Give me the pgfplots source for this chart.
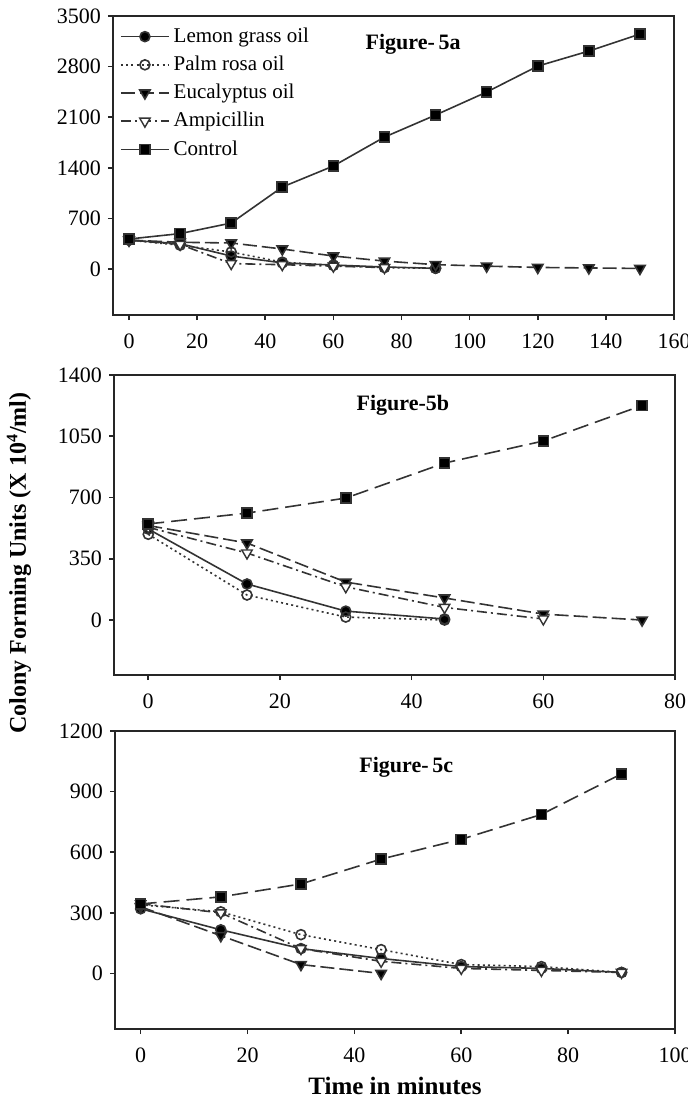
\documentclass[border=0pt]{standalone}
\usepackage{pgfplots}
\pgfplotsset{compat=1.18}
\usepackage{fontspec}
\setmainfont{Liberation Serif}
\tikzset{fig/.style={font=\bfseries\fontsize{11}{13}\selectfont}}
\begin{document}
\begin{tikzpicture}
\pgfplotsset{
  panel/.style={
    scale only axis, anchor=south west,
    axis line style={line width=1pt, black!85},
    tick style={line width=0.8pt, black!85},
    tick align=outside, major tick length=2.5pt,
    xtick pos=bottom, ytick pos=left,
    ticklabel style={font=\fontsize{11}{13}\selectfont},
    xticklabel style={yshift=-3.5pt},
    /pgf/number format/assume math mode=true,
    /pgf/number format/1000 sep={},
    clip=false,
  },
  lemon/.style={black!80, line width=0.8pt, mark=*, mark size=2.5pt, mark options={solid, fill=black}},
  palm/.style={black!80, line width=0.8pt, dash pattern=on 1pt off 1.6pt, mark=o, mark size=2.5pt, mark options={solid, fill=white, line width=0.8pt}},
  euca/.style={black!80, line width=0.8pt, dash pattern=on 7pt off 2.5pt, mark=triangle*, mark size=3pt, mark options={solid, rotate=180, fill=black}},
  ampi/.style={black!80, line width=0.8pt, dash pattern=on 5pt off 2pt on 1pt off 2pt, mark=triangle*, mark size=3pt, mark options={solid, rotate=180, fill=white, line width=0.7pt}},
  ctrlsolid/.style={black!80, line width=0.8pt, mark=square*, mark size=2.5pt, mark options={solid, fill=black}},
  ctrldash/.style={black!80, line width=0.8pt, dash pattern=on 8pt off 3.5pt, mark=square*, mark size=2.5pt, mark options={solid, fill=black}},
}
% ---------------- Figure 5a ----------------
\begin{axis}[panel, at={(56.5pt,-157.5pt)}, width=280.5pt, height=149.5pt,
  xmin=-4.7, xmax=160, ymin=-636, ymax=3500,
  xtick={0,20,...,160}, ytick={0,700,...,3500},
  legend style={at={(axis description cs:0.012,0.975)}, anchor=north west, draw=none, fill=none,
    font=\fontsize{10.5}{12}\selectfont, row sep=1.3pt, inner sep=0pt},
  legend cell align=left,
  legend image code/.code={\draw[mark repeat=2,mark phase=2] plot coordinates {(0pt,0pt) (12pt,0pt) (24pt,0pt)};},
]
\addplot[lemon] coordinates {(0,400) (15,350) (30,180) (45,85) (60,55) (75,28) (90,10)};
\addlegendentry{Lemon grass oil}
\addplot[palm] coordinates {(0,400) (15,330) (30,235) (45,95) (60,50) (75,20) (90,10)};
\addlegendentry{Palm rosa oil}
\addplot[euca] coordinates {(0,400) (15,370) (30,360) (45,277) (60,180) (75,110) (90,60) (105,40) (120,22) (135,15) (150,8)};
\addlegendentry{Eucalyptus oil}
\addplot[ampi] coordinates {(0,400) (15,340) (30,75) (45,60) (60,40) (75,20)};
\addlegendentry{Ampicillin}
\addplot[ctrlsolid] coordinates {(0,415) (15,490) (30,636) (45,1134) (60,1425) (75,1825) (90,2130) (105,2448) (120,2807) (135,3015) (150,3250)};
\addlegendentry{Control}
\node[fig] at (axis description cs:0.535,0.906) {Figure-\,5a};
\end{axis}
% ---------------- Figure 5b ----------------
\begin{axis}[panel, at={(57pt,-337.5pt)}, width=280.5pt, height=150pt,
  xmin=-5.2, xmax=80, ymin=-314, ymax=1400,
  xtick={0,20,...,80}, ytick={0,350,...,1400},
]
\addplot[lemon] coordinates {(0,520) (15,206) (30,51) (45,6)};
\addplot[palm] coordinates {(0,490) (15,143) (30,17) (45,0)};
\addplot[euca] coordinates {(0,540) (15,440) (30,217) (45,126) (60,34) (75,0)};
\addplot[ampi] coordinates {(0,530) (15,383) (30,190) (45,72) (60,6)};
\addplot[ctrldash] coordinates {(0,549) (15,611) (30,697) (45,897) (60,1023) (75,1226)};
\node[fig] at (axis description cs:0.515,0.9) {Figure-5b};
\end{axis}
% ---------------- Figure 5c ----------------
\begin{axis}[panel, at={(57.5pt,-514.5pt)}, width=280pt, height=149pt,
  xmin=-4.8, xmax=100, ymin=-275, ymax=1200,
  xtick={0,20,...,100}, ytick={0,300,...,1200},
  xlabel={Time in minutes},
  xlabel style={font=\bfseries\fontsize{12.5}{14}\selectfont, yshift=0pt},
]
\addplot[lemon] coordinates {(0,320) (15,216) (30,123) (45,74) (60,34) (75,25) (90,5)};
\addplot[palm] coordinates {(0,340) (15,305) (30,192) (45,118) (60,44) (75,34) (90,5)};
\addplot[euca] coordinates {(0,330) (15,187) (30,44) (45,0)};
\addplot[ampi] coordinates {(0,345) (15,300) (30,123) (45,60) (60,25) (75,15) (90,5)};
\addplot[ctrldash] coordinates {(0,344) (15,379) (30,443) (45,566) (60,664) (75,787) (90,988)};
\node[fig] at (axis description cs:0.52,0.877) {Figure-\,5c};
\end{axis}
\node[rotate=90, font=\bfseries\fontsize{12}{14}\selectfont] at (9.5pt,-281.5pt) {Colony Forming Units (X 10\textsuperscript{4}/ml)};
\pgfresetboundingbox
\useasboundingbox (0pt,0pt) rectangle (344pt,-551pt);
\end{tikzpicture}
\end{document}
